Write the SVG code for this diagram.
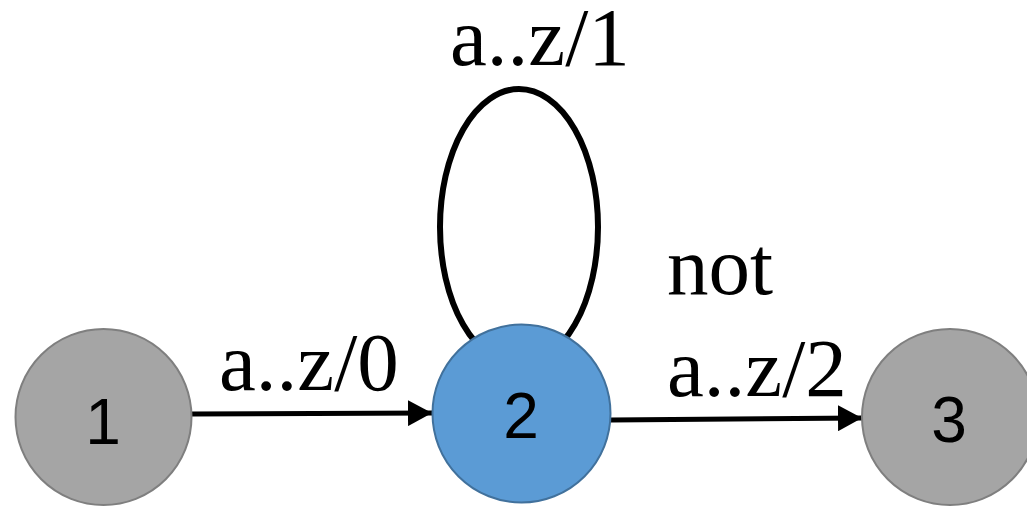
<svg xmlns="http://www.w3.org/2000/svg" width="1027" height="506" viewBox="0 0 1027 506">
<style>
.lbl{font-family:"Liberation Serif","Times New Roman",serif;font-size:83px;fill:#000}
.num{font-family:"Liberation Sans",Arial,sans-serif;font-size:64px;fill:#000;text-anchor:middle}
.edge{stroke:#000;stroke-width:5;fill:none}
.gray{fill:#A5A5A5;stroke:#7F7F7F;stroke-width:2}
.blue{fill:#5B9BD5;stroke:#41719C;stroke-width:2}
</style>
<defs>
<marker id="arr" markerWidth="24" markerHeight="26" refX="24" refY="13" orient="auto" markerUnits="userSpaceOnUse">
<path d="M0,0 L24,13 L0,26 Z" fill="#000"/>
</marker>
</defs>
<rect width="1027" height="506" fill="#fff"/>
<g id="connectors">
<ellipse cx="519" cy="227" rx="79" ry="138" stroke="#000" stroke-width="6" fill="none"/>
<line class="edge" x1="192" y1="414" x2="432" y2="413" marker-end="url(#arr)"/>
<line class="edge" x1="611" y1="420" x2="862" y2="418" marker-end="url(#arr)"/>
</g>
<g id="node1">
<circle class="gray" cx="103.5" cy="417" r="88"/>
<text class="num" x="103" y="444">1</text>
</g>
<g id="node2">
<circle class="blue" cx="521.5" cy="413.5" r="89"/>
<text class="num" x="521" y="438">2</text>
</g>
<g id="node3">
<circle class="gray" cx="950" cy="417" r="88"/>
<text class="num" x="949" y="442">3</text>
</g>
<g id="labels">
<text class="lbl" x="450" y="65">a..z/1</text>
<text class="lbl" x="219" y="390">a..z/0</text>
<text class="lbl" x="667" y="294">not</text>
<text class="lbl" x="667" y="396">a..z/2</text>
</g>
</svg>
